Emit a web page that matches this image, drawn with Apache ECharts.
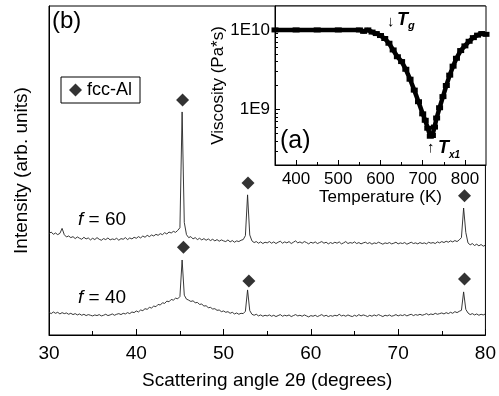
<!DOCTYPE html>
<html>
<head>
<meta charset="utf-8">
<script src="https://cdn.jsdelivr.net/npm/echarts@6/dist/echarts.min.js"></script>
<style>
  html, body { margin: 0; padding: 0; background: #fff; }
  #chart { width: 499px; height: 396px; }
</style>
</head>
<body>
<div id="chart"></div>
<script>
const angleStart = 30;
const angleStep = 0.25;

const intensityF60 = [
  30.8, 31.3, 30.6, 31.0, 30.5, 30.9, 32.4, 30.5, 29.8, 30.1,
  29.6, 29.9, 29.3, 29.8, 29.4, 29.1, 29.7, 29.2, 29.5, 28.9,
  29.4, 29.0, 29.6, 29.1, 28.8, 29.3, 29.0, 29.5, 28.9, 29.2,
  29.0, 29.4, 28.8, 29.3, 29.1, 29.6, 29.0, 29.5, 29.2, 29.7,
  29.4, 29.9, 29.5, 30.1, 29.7, 30.3, 29.9, 30.4, 30.1, 30.6,
  30.3, 30.8, 30.5, 31.1, 30.7, 31.3, 31.0, 31.5, 31.2, 31.8,
  32.6, 67.8, 34.2, 30.5, 29.6, 29.9, 29.2, 29.6, 29.0, 29.4,
  28.9, 29.3, 28.8, 29.2, 28.7, 29.1, 28.6, 29.0, 28.5, 28.9,
  28.6, 28.4, 28.9, 28.3, 28.7, 28.2, 28.6, 28.4, 28.8, 29.0,
  30.2, 42.6, 30.4, 28.6, 28.1, 28.4, 27.9, 28.3, 27.8, 28.2,
  28.0, 28.4, 27.9, 28.3, 27.8, 28.2, 28.5, 27.9, 28.3, 28.0,
  28.4, 27.8, 28.2, 28.6, 28.0, 28.3, 27.9, 28.4, 28.1, 27.7,
  28.2, 27.9, 28.3, 27.8, 28.1, 28.4, 27.9, 28.2, 27.7, 28.1,
  27.8, 28.2, 27.9, 28.3, 27.7, 28.0, 28.4, 27.8, 28.1, 27.9,
  28.3, 27.8, 28.1, 27.7, 28.0, 28.2, 27.8, 28.1, 27.6, 28.0,
  27.8, 28.2, 27.9, 27.6, 28.0, 27.8, 28.1, 27.7, 27.9, 28.2,
  27.7, 28.0, 27.8, 28.1, 27.6, 27.9, 28.2, 27.8, 28.0, 27.7,
  28.1, 27.8, 28.0, 27.7, 28.2, 27.9, 28.1, 27.8, 28.3, 28.0,
  28.4, 28.1, 28.5, 28.2, 28.6, 28.3, 28.7, 28.4, 28.9, 29.6,
  38.6, 31.2, 28.0, 27.4, 27.8, 27.2, 27.6, 27.1, 27.5, 27.0,
  27.3
];

const intensityF40 = [
  6.9, 6.5, 7.0, 6.6, 6.9, 6.4, 6.8, 6.5, 6.7, 6.3,
  6.6, 6.2, 6.5, 6.1, 6.4, 6.0, 6.3, 5.9, 6.2, 6.0,
  5.8, 6.1, 5.9, 6.2, 5.8, 6.0, 6.3, 5.9, 6.1, 6.4,
  6.0, 6.3, 6.5, 6.2, 6.6, 6.4, 6.8, 6.5, 7.0, 6.8,
  7.3, 7.0, 7.6, 7.4, 8.0, 7.8, 8.4, 8.2, 8.8, 8.6,
  9.3, 9.1, 9.8, 9.6, 10.3, 10.1, 10.8, 10.6, 11.2, 11.0,
  11.7, 22.8, 12.1, 10.9, 10.6, 10.2, 10.4, 9.8, 9.9, 9.3,
  9.4, 8.8, 8.9, 8.3, 8.4, 7.9, 8.0, 7.5, 7.6, 7.1,
  7.3, 6.9, 7.1, 6.6, 6.9, 6.4, 6.7, 6.3, 6.6, 6.5,
  7.2, 13.7, 7.4, 6.3, 6.0, 6.3, 5.8, 6.1, 5.7, 6.0,
  5.8, 6.1, 5.7, 6.0, 5.6, 5.9, 6.2, 5.7, 6.0, 5.8,
  6.1, 5.6, 5.9, 6.2, 5.8, 6.0, 5.7, 6.1, 5.8, 5.5,
  5.9, 5.7, 6.0, 5.6, 5.9, 6.2, 5.7, 6.0, 5.6, 5.9,
  5.7, 6.0, 5.8, 6.3, 5.8, 6.0, 5.7, 6.1, 5.8, 5.6,
  6.0, 5.7, 6.2, 5.8, 6.1, 5.9, 5.6, 6.0, 5.7, 6.1,
  5.8, 6.2, 5.9, 5.6, 6.0, 5.8, 6.1, 5.7, 5.9, 6.2,
  5.8, 6.1, 5.9, 6.2, 5.8, 6.1, 6.3, 5.9, 6.2, 6.0,
  6.3, 6.0, 6.2, 6.5, 6.1, 6.4, 6.2, 6.6, 6.3, 6.5,
  6.7, 6.4, 6.8, 6.5, 6.9, 6.6, 7.1, 6.8, 7.2, 7.5,
  13.1, 7.8, 6.7, 6.2, 6.5, 6.1, 6.4, 6.0, 6.3, 6.1,
  6.4
];

// fcc-Al reflection markers
const alPeakAngles = [45.3, 52.8, 77.6, 45.4, 52.9, 77.6];
const alPeakHeights = [71.4, 46.2, 42.3, 26.7, 16.4, 17.0];

// inset (a): viscosity vs temperature
const viscTemp = [350, 400, 450, 500, 550, 560, 570, 580, 590, 600, 610, 620, 630, 640, 650,
  660, 670, 680, 690, 700, 706, 712, 718, 723, 728, 733, 740, 748, 756, 764, 772, 780,
  790, 800, 810, 820, 830, 840, 850];
const viscValue = [1e10, 1e10, 1e10, 1e10, 1e10, 9.6e9, 1e10, 9.4e9, 9.0e9, 8.5e9, 7.8e9,
  6.8e9, 5.6e9, 4.6e9, 4.0e9, 3.2e9, 2.4e9, 1.75e9, 1.25e9, 8.8e8, 7.3e8, 5.8e8, 4.6e8,
  4.7e8, 6.0e8, 7.8e8, 1.05e9, 1.45e9, 2.0e9, 2.7e9, 3.5e9, 4.4e9, 5.5e9, 6.3e9, 7.2e9,
  8.0e9, 8.6e9, 9.0e9, 8.8e9];

// tick positions
const insetTempMajor = [400, 500, 600, 700, 800];
const insetTempMinor = [450, 550, 650, 750];
const insetViscMajor = [1e9, 1e10];
const insetViscMinor = [3e8, 4e8, 5e8, 6e8, 7e8, 8e8, 9e8, 2e9, 3e9, 4e9, 5e9, 6e9, 7e9, 8e9, 9e9];

const toPairs = (arr) => arr.map((v, i) => [angleStart + i * angleStep, v]);

const chart = echarts.init(document.getElementById('chart'));

const font = '"Liberation Sans", Arial, sans-serif';

const option = {
  animation: false,
  textStyle: { fontFamily: font, color: '#000' },
  grid: [
    { left: 49, top: 6, width: 438, height: 329, show: true, borderColor: '#000', borderWidth: 1 },
    { left: 275, top: 6, width: 211, height: 159, show: true, borderColor: '#000', borderWidth: 1, backgroundColor: '#fff', z: 5 }
  ],
  legend: {
    data: ['fcc-Al'],
    left: 61,
    top: 77,
    padding: [4, 8, 4, 8],
    borderColor: '#000',
    borderWidth: 1,
    itemWidth: 13,
    itemHeight: 13,
    textStyle: { fontSize: 18, color: '#000', fontFamily: font }
  },
  xAxis: [
    {
      gridIndex: 0, type: 'value', min: 30, max: 80, interval: 10,
      axisLine: { lineStyle: { color: '#000', width: 1 } },
      axisTick: { inside: true, length: 6, lineStyle: { color: '#000' } },
      minorTick: { show: true, splitNumber: 2, length: 4, lineStyle: { color: '#000' } },
      axisLabel: { fontSize: 19, color: '#000', margin: 9 },
      splitLine: { show: false },
      name: 'Scattering angle 2\u03b8 (degrees)',
      nameLocation: 'middle', nameGap: 36,
      nameTextStyle: { fontSize: 19, color: '#000' }
    },
    {
      gridIndex: 1, type: 'value', min: 350, max: 850,
      axisLine: { onZero: false, lineStyle: { color: '#000', width: 1 } },
      axisTick: { inside: true, length: 5, customValues: insetTempMajor, lineStyle: { color: '#000' } },
      axisLabel: { fontSize: 17, color: '#000', margin: 6, customValues: insetTempMajor },
      splitLine: { show: false },
      name: 'Temperature (K)',
      nameLocation: 'middle', nameGap: 23,
      nameTextStyle: { fontSize: 17, color: '#000' },
      z: 6
    },
    {
      // minor ticks of the inset temperature axis
      gridIndex: 1, type: 'value', min: 350, max: 850, position: 'bottom',
      axisLine: { show: false, onZero: false },
      axisTick: { inside: true, length: 3, customValues: insetTempMinor, lineStyle: { color: '#000' } },
      axisLabel: { show: false },
      splitLine: { show: false },
      z: 6
    }
  ],
  yAxis: [
    {
      gridIndex: 0, type: 'value', min: 0, max: 100,
      axisLine: { show: true, lineStyle: { color: '#000' } },
      axisTick: { show: false },
      axisLabel: { show: false },
      splitLine: { show: false },
      name: 'Intensity (arb. units)',
      nameLocation: 'middle', nameGap: 18,
      nameTextStyle: { fontSize: 19, color: '#000' }
    },
    {
      gridIndex: 1, type: 'log', logBase: 10, min: 2e8, max: 2e10,
      axisLine: { show: true, lineStyle: { color: '#000' } },
      axisTick: { inside: true, length: 5, customValues: insetViscMajor, lineStyle: { color: '#000' } },
      axisLabel: {
        fontSize: 17, color: '#000', margin: 5, customValues: insetViscMajor,
        formatter: (v) => (v > 5e9 ? '1E10' : '1E9')
      },
      splitLine: { show: false },
      name: 'Viscosity (Pa*s)',
      nameLocation: 'middle', nameGap: 46,
      nameTextStyle: { fontSize: 17, color: '#000' },
      z: 6
    },
    {
      // minor ticks of the inset viscosity axis
      gridIndex: 1, type: 'log', logBase: 10, min: 2e8, max: 2e10, position: 'left',
      axisLine: { show: false },
      axisTick: { inside: true, length: 3, customValues: insetViscMinor, lineStyle: { color: '#000' } },
      axisLabel: { show: false },
      splitLine: { show: false },
      z: 6
    }
  ],
  series: [
    {
      name: 'f = 60', type: 'line', xAxisIndex: 0, yAxisIndex: 0,
      data: toPairs(intensityF60), showSymbol: false,
      lineStyle: { color: '#222', width: 0.9 }
    },
    {
      name: 'f = 40', type: 'line', xAxisIndex: 0, yAxisIndex: 0,
      data: toPairs(intensityF40), showSymbol: false,
      lineStyle: { color: '#222', width: 0.9 }
    },
    {
      name: 'fcc-Al', type: 'scatter', xAxisIndex: 0, yAxisIndex: 0,
      data: alPeakAngles.map((a, i) => [a, alPeakHeights[i]]),
      symbol: 'diamond', symbolSize: 13,
      itemStyle: { color: '#000' }
    },
    {
      name: 'viscosity', type: 'line', xAxisIndex: 1, yAxisIndex: 1,
      data: viscTemp.map((t, i) => [t, viscValue[i]]),
      showSymbol: true, symbol: 'rect', symbolSize: [7, 5],
      itemStyle: { color: '#000' },
      lineStyle: { color: '#000', width: 4.5 },
      z: 7
    }
  ],
  graphic: [
    { type: 'text', left: 52, top: 9, z: 10, style: { text: '(b)', fontSize: 24, fill: '#000', fontFamily: font } },
    {
      type: 'text', left: 78, top: 210, z: 10,
      style: { text: '{i|f} = 60', fontSize: 19, fill: '#000', fontFamily: font,
        rich: { i: { fontStyle: 'italic', fontSize: 19, fontFamily: font } } }
    },
    {
      type: 'text', left: 78, top: 288, z: 10,
      style: { text: '{i|f} = 40', fontSize: 19, fill: '#000', fontFamily: font,
        rich: { i: { fontStyle: 'italic', fontSize: 19, fontFamily: font } } }
    },
    { type: 'text', left: 280, top: 129, z: 10, style: { text: '(a)', fontSize: 25, fill: '#000', fontFamily: font } },
    { type: 'text', left: 387, top: 14, z: 10, style: { text: '\u2193', fontSize: 15, fill: '#000', fontFamily: font } },
    {
      type: 'text', left: 397, top: 11, z: 10,
      style: { text: 'T{s|g}', fontSize: 18, fontWeight: 'bold', fontStyle: 'italic', fill: '#000', fontFamily: font,
        rich: { s: { fontSize: 11, fontWeight: 'bold', fontStyle: 'italic', fontFamily: font, padding: [12, 0, 0, 0] } } }
    },
    { type: 'text', left: 427, top: 140, z: 10, style: { text: '\u2191', fontSize: 15, fill: '#000', fontFamily: font } },
    {
      type: 'text', left: 438, top: 139, z: 10,
      style: { text: 'T{s|x1}', fontSize: 18, fontWeight: 'bold', fontStyle: 'italic', fill: '#000', fontFamily: font,
        rich: { s: { fontSize: 10, fontWeight: 'bold', fontStyle: 'italic', fontFamily: font, padding: [14, 0, 0, 0] } } }
    }
  ]
};

chart.setOption(option);
window.addEventListener('resize', () => chart.resize());
</script>
</body>
</html>
